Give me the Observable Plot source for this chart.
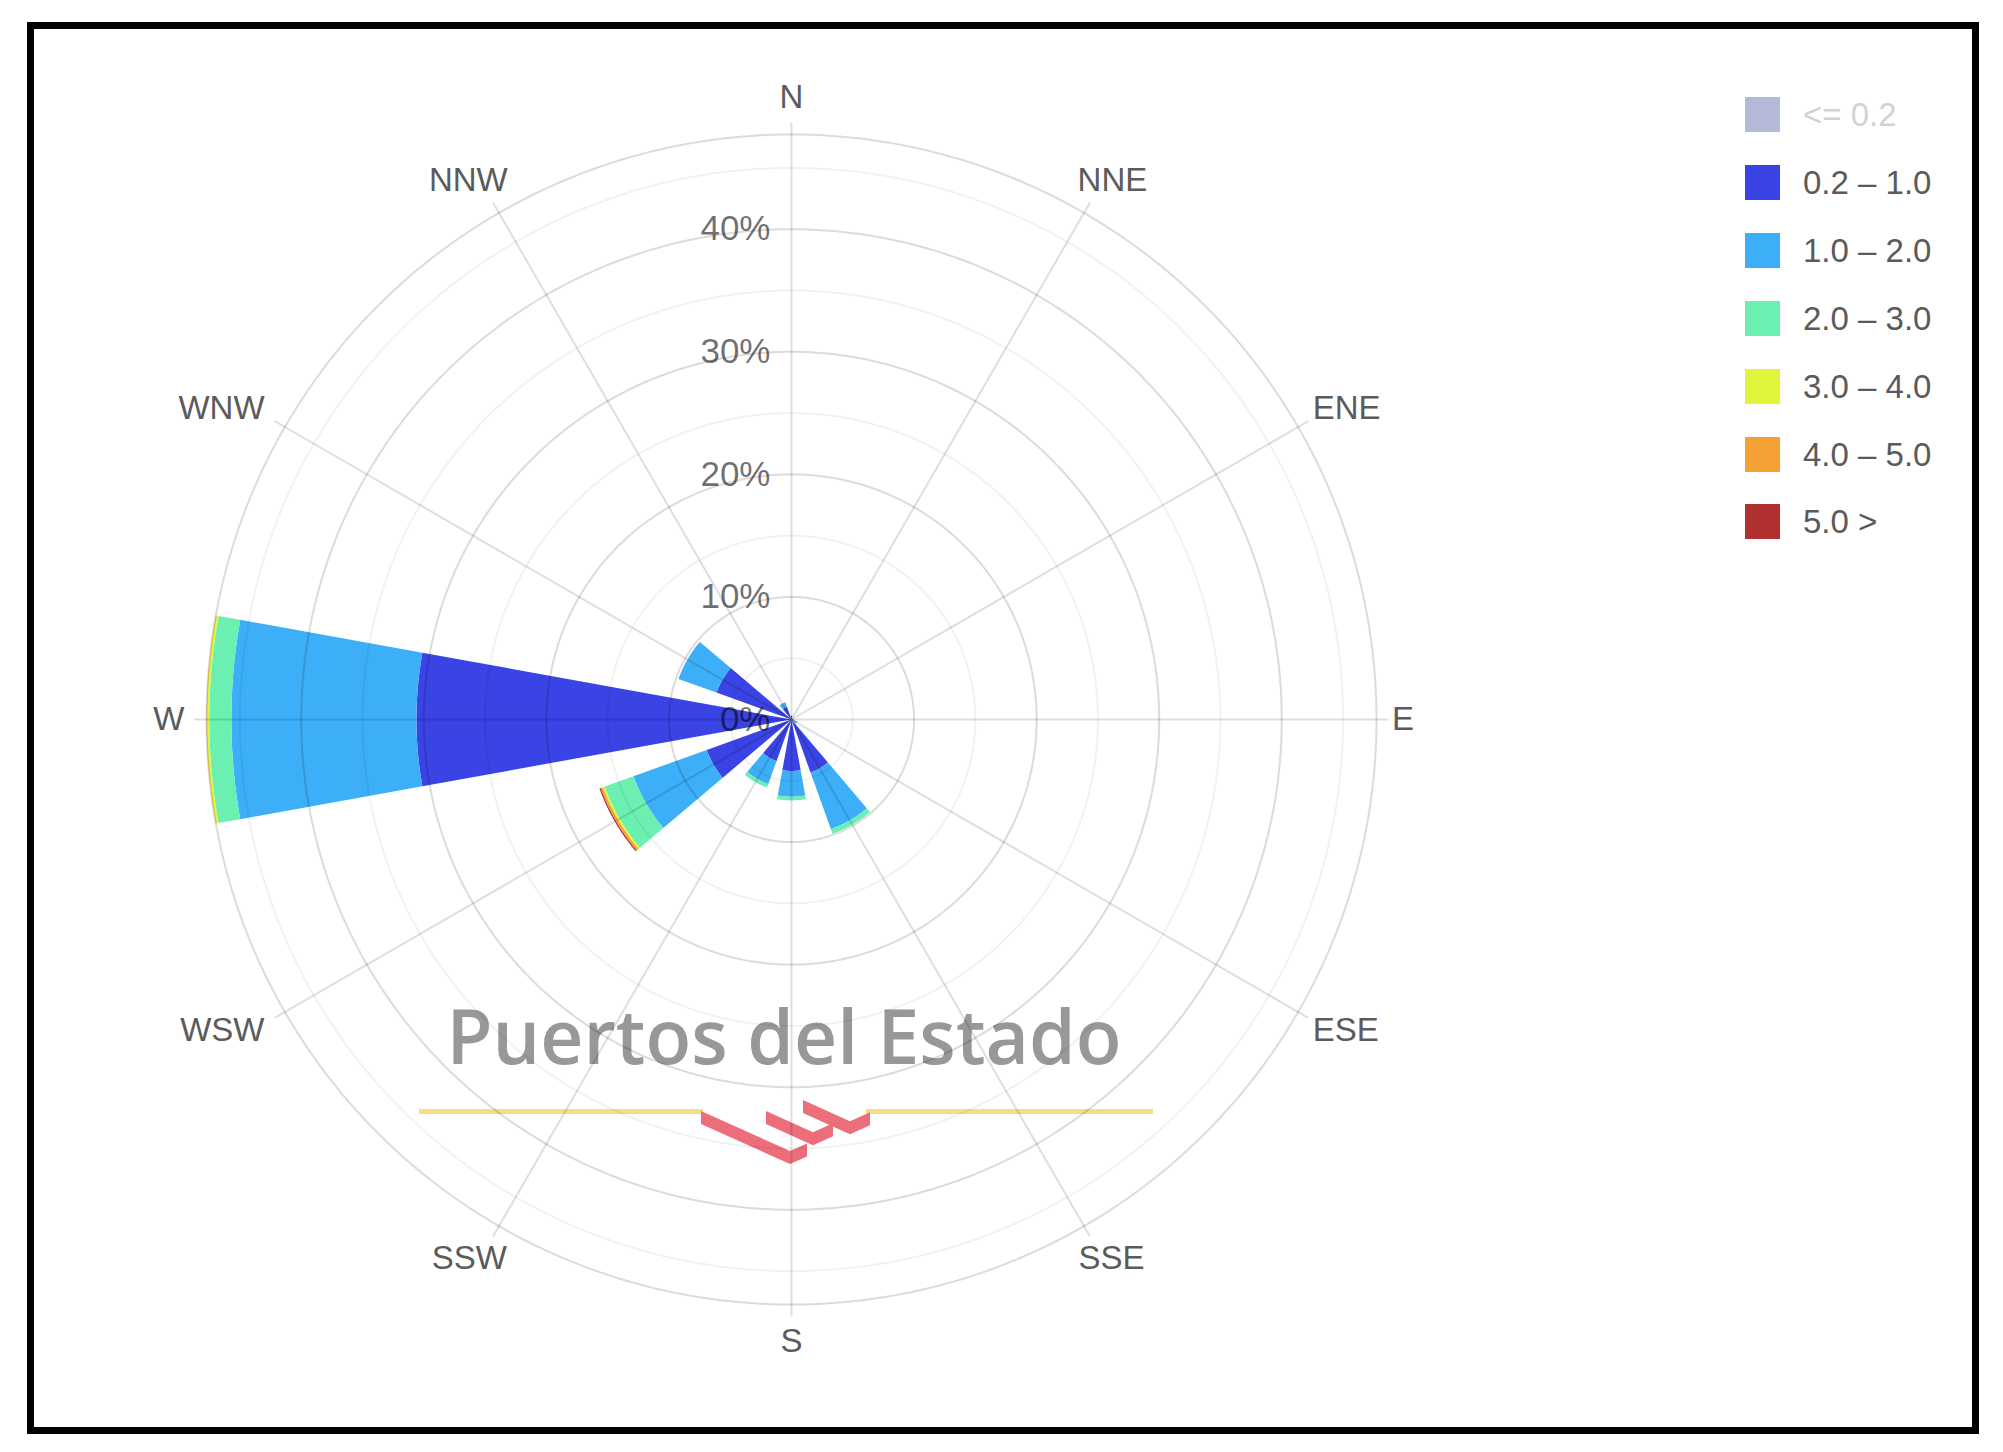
<!DOCTYPE html>
<html>
<head>
<meta charset="utf-8">
<script src="https://cdn.jsdelivr.net/npm/d3@7"></script>
<script src="https://cdn.jsdelivr.net/npm/@observablehq/plot@0.6"></script>
<style>
  html, body { margin: 0; padding: 0; background: #fff; }
  body { width: 2003px; height: 1452px; position: relative; overflow: hidden;
         font-family: "Liberation Sans", Arial, Helvetica, sans-serif; }
  #frame { position: absolute; left: 27px; top: 22px; width: 1952px; height: 1412px;
           border: 7px solid #000; box-sizing: border-box; z-index: 3; pointer-events: none; }
  #watermark { position: absolute; left: 0; top: 0; z-index: 0; }
  #chart { position: absolute; left: 0; top: 0; z-index: 1; }
  #chart svg { display: block; }
  #legend { position: absolute; left: 1745px; top: 97px; z-index: 2; }
  .item { position: absolute; left: 0; height: 35px; white-space: nowrap; }
  .sw { position: absolute; left: 0; top: 0; width: 35px; height: 35px; }
  .lab { position: absolute; left: 58px; top: 0; line-height: 35px; font-size: 33px; color: #5a5a5a; }
</style>
</head>
<body>
<div id="watermark"></div>
<div id="chart"></div>
<div id="legend"></div>
<div id="frame"></div>
<script>
// ---------------- data ----------------
const directions = ["N", "NNE", "ENE", "E", "ESE", "SSE", "S", "SSW", "WSW", "W", "WNW", "NNW"];
const rangeLabels = ["<= 0.2", "0.2 – 1.0", "1.0 – 2.0", "2.0 – 3.0", "3.0 – 4.0", "4.0 – 5.0", "5.0 >"];
const rangeColors = ["#b3b9d7", "#3a43e3", "#3caff8", "#6cf0b2", "#e1f53b", "#f4a233", "#b02f2f"];
const hiddenRanges = ["<= 0.2"];   // toggled off in the legend (not drawn)

// percentage of occurrence per direction (N ... NNW)
const pct_le_0_2  = [0, 0, 0, 0, 0, 0, 0, 0, 0, 0, 0, 0];
const pct_0_2_1_0 = [0.3, 0, 0, 0.1, 0.2, 4.6, 4.2, 3.6, 7.35, 30.6, 6.5, 1.1];
const pct_1_0_2_0 = [0, 0, 0, 0.1, 0.3, 4.9, 2.1, 2.0, 6.35, 15.1, 3.3, 0.4];
const pct_2_0_3_0 = [0, 0, 0, 0, 0, 0.4, 0.3, 0.3, 2.5, 1.8, 0, 0];
const pct_3_0_4_0 = [0, 0, 0, 0, 0, 0, 0, 0, 0.15, 0.2, 0, 0];
const pct_4_0_5_0 = [0, 0, 0, 0, 0, 0, 0, 0, 0.2, 0.03, 0, 0];
const pct_5_0_up  = [0, 0, 0, 0, 0, 0, 0, 0, 0.1, 0, 0, 0];

const radialTicks = [0, 10, 20, 30, 40];
const minorRings  = [5, 15, 25, 35, 45];

const watermarkText = "Puertos del Estado";

// ---------------- layout ----------------
const W = 2003, H = 1452;
const cx = 791, cy = 719, Rpx = 585;
const barWidthDeg = 20.5;
const fontStack = "'Liberation Sans', Arial, Helvetica, sans-serif";

const series = [pct_le_0_2, pct_0_2_1_0, pct_1_0_2_0, pct_2_0_3_0, pct_3_0_4_0, pct_4_0_5_0, pct_5_0_up];
const visible = series.map((s, j) => !hiddenRanges.includes(rangeLabels[j]));
const step = 360 / directions.length;
const rad = Math.PI / 180;

const totals = directions.map((d, i) => d3.sum(series.filter((s, j) => visible[j]), s => s[i]));
const Rmax = d3.max(totals);
const k = Rpx / Rmax; // px per percent

// wedge polygons (stacked bars) in data units
const wedgePts = [];
directions.forEach((dir, i) => {
  const theta = i * step;
  let r0 = 0;
  series.forEach((vals, j) => {
    if (!visible[j]) return;
    const v = vals[i];
    if (!(v > 0)) return;
    const r1 = r0 + v;
    const id = dir + "|" + j;
    const n = 48;
    for (let s = 0; s <= n; s++) {
      const a = (theta - barWidthDeg / 2 + barWidthDeg * s / n) * rad;
      wedgePts.push({id, range: rangeLabels[j], x: r1 * Math.sin(a), y: r1 * Math.cos(a)});
    }
    for (let s = n; s >= 0; s--) {
      const a = (theta - barWidthDeg / 2 + barWidthDeg * s / n) * rad;
      wedgePts.push({id, range: rangeLabels[j], x: r0 * Math.sin(a), y: r0 * Math.cos(a)});
    }
    r0 = r1;
  });
});

// grid rings
function ringPoints(list, kind) {
  const pts = [];
  list.forEach(r => {
    for (let s = 0; s <= 360; s++) pts.push({r, kind, x: r * Math.sin(s * rad), y: r * Math.cos(s * rad)});
  });
  return pts;
}
const majorRings = radialTicks.filter(r => r > 0 && r < Rmax).concat([Rmax]);
const majorPts = ringPoints(majorRings, "major");
const minorPts = ringPoints(minorRings.filter(r => r < Rmax), "minor");

// spokes
const spokeLen = Rmax + 12 / k;
const spokes = directions.map((d, i) => ({
  dir: d,
  x2: spokeLen * Math.sin(i * step * rad),
  y2: spokeLen * Math.cos(i * step * rad)
}));

// direction labels
const dirFont = 33;
const charW = {N: 0.722, E: 0.667, S: 0.667, W: 0.944};
const gap = 22;
const dirLabels = directions.map((d, i) => {
  const ux = Math.sin(i * step * rad), uy = Math.cos(i * step * rad);
  const wpx = d3.sum(d.split(""), c => charW[c]) * dirFont;
  const px = (Rpx + gap) * ux + (wpx / 2) * ux * (ux > 0.99 ? 0.4 : 1) + (ux < -0.8 && ux > -0.99 ? -7 : 0);
  const py = (Rpx + gap) * uy + 15 * uy;
  return {dir: d, x: px / k, y: py / k};
});

// ---------------- chart ----------------
const chart = Plot.plot({
  width: W,
  height: H,
  marginLeft: cx - Rpx,
  marginRight: W - cx - Rpx,
  marginTop: cy - Rpx,
  marginBottom: H - cy - Rpx,
  x: {domain: [-Rmax, Rmax], axis: null},
  y: {domain: [-Rmax, Rmax], axis: null},
  color: {domain: rangeLabels, range: rangeColors},
  style: {background: "transparent", fontFamily: fontStack, overflow: "visible"},
  marks: [
    Plot.line(wedgePts, {x: "x", y: "y", z: "id", fill: "range", stroke: "none", curve: "linear-closed"}),
    Plot.line(minorPts, {x: "x", y: "y", z: "r", stroke: "#000", strokeOpacity: 0.055, strokeWidth: 2}),
    Plot.line(majorPts, {x: "x", y: "y", z: "r", stroke: "#000", strokeOpacity: 0.14, strokeWidth: 2}),
    Plot.link(spokes, {x1: d => 0, y1: d => 0, x2: "x2", y2: "y2", stroke: "#000", strokeOpacity: 0.13, strokeWidth: 2}),
    Plot.text(radialTicks, {x: d => 0, y: d => d, text: d => d + "%", textAnchor: "end", dx: -21,
      fontSize: 35, fill: "#000", fillOpacity: 0.56}),
    Plot.text(dirLabels, {x: "x", y: "y", text: "dir", textAnchor: "middle", fontSize: dirFont, fill: "#5b5b5b"})
  ]
});
document.getElementById("chart").appendChild(chart);

// ---------------- legend ----------------
const legend = d3.select("#legend");
rangeLabels.forEach((lab, j) => {
  const item = legend.append("div").attr("class", "item").style("top", (j * 67.9) + "px");
  item.append("div").attr("class", "sw").style("background", rangeColors[j]);
  item.append("div").attr("class", "lab").text(lab)
    .style("color", visible[j] ? "#5a5a5a" : "#d2d2d2");
});

// ---------------- watermark (logo image overlay) ----------------
const wm = d3.select("#watermark").append("svg").attr("width", W).attr("height", H);
wm.append("text")
  .attr("x", 784).attr("y", 1064)
  .attr("text-anchor", "middle")
  .attr("font-family", "'Open Sans', 'DejaVu Sans', sans-serif")
  .attr("font-weight", 600)
  .attr("font-size", 76)
  .attr("textLength", 675)
  .attr("lengthAdjust", "spacingAndGlyphs")
  .attr("fill", "#989898")
  .text(watermarkText);
wm.append("rect").attr("x", 419).attr("y", 1109).attr("width", 284).attr("height", 5).attr("fill", "#f7dd82");
wm.append("rect").attr("x", 866).attr("y", 1109).attr("width", 287).attr("height", 5).attr("fill", "#f7dd82");
function chevron(px, py, a, b, t, s) {
  const Q = [px + a, py + a * s], D = [Q[0] + b, Q[1] - b * s];
  return [[px, py], Q, D, [D[0], D[1] + t], [Q[0], Q[1] + t], [px, py + t]];
}
[chevron(701, 1111, 89, 17, 13, 0.45), chevron(766, 1111, 47, 20, 13, 0.45), chevron(803, 1100, 47, 20, 13, 0.45)]
  .forEach(p => wm.append("polygon").attr("points", p.map(q => q.join(",")).join(" ")).attr("fill", "#ec6e7a"));
</script>
</body>
</html>
